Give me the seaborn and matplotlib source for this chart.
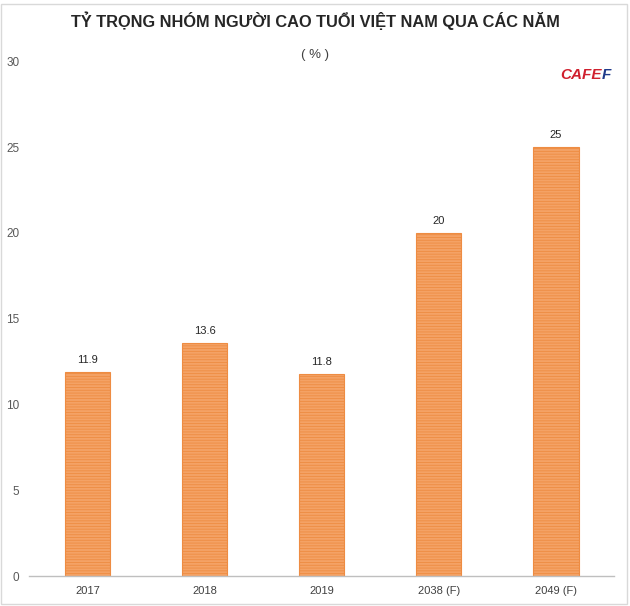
import matplotlib
matplotlib.use("Agg")
import matplotlib.pyplot as plt
import seaborn as sns
import pandas as pd

categories = ["2017", "2018", "2019", "2038 (F)", "2049 (F)"]
values = [11.9, 13.6, 11.8, 20, 25]
value_labels = ["11.9", "13.6", "11.8", "20", "25"]
yticks = [0, 5, 10, 15, 20, 25, 30]

title = "TỶ TRỌNG NHÓM NGƯỜI CAO TUỔI VIỆT NAM QUA CÁC NĂM"
subtitle = "( % )"

sns.set_theme(style="white")
plt.rcParams["font.family"] = ["Liberation Sans", "DejaVu Sans"]
plt.rcParams["hatch.color"] = "#F8C8A2"
plt.rcParams["hatch.linewidth"] = 0.6

df = pd.DataFrame({"year": categories, "value": values})

fig = plt.figure(figsize=(6.3, 6.06), dpi=100)
ax = fig.add_axes([0.046, 0.0495, 0.929, 0.8495])

sns.barplot(data=df, x="year", y="value", ax=ax, color="#F4A265",
            width=0.39, saturation=1, edgecolor="#EE8C42", linewidth=0.8)
for p in ax.patches:
    p.set_hatch("------")

ax.set_xlim(-0.5, 4.5)
ax.set_ylim(0, 30)
ax.set_yticks(yticks)
ax.set_yticklabels([str(t) for t in yticks], fontsize=8.5, color="#595959")
ax.tick_params(axis="y", length=0, pad=7)
ax.tick_params(axis="x", length=0, pad=7, labelsize=8, labelcolor="#404040")
ax.set_xlabel("")
ax.set_ylabel("")
for s in ["top", "right", "left"]:
    ax.spines[s].set_visible(False)
ax.spines["bottom"].set_color("#BFBFBF")
ax.spines["bottom"].set_linewidth(1.0)

for i, (v, lab) in enumerate(zip(values, value_labels)):
    ax.annotate(lab, (i, v), xytext=(0, 5), textcoords="offset points",
                ha="center", va="bottom", fontsize=8, color="#262626")

fig.text(0.5, 0.965, title, ha="center", va="center", fontsize=11.8,
         fontweight="bold", color="#262626")
fig.text(0.5, 0.909, subtitle, ha="center", va="center", fontsize=9.5,
         color="#404040")

# CAFEF mark
fig.text(0.955, 0.876, "CAFE", ha="right", va="center", fontsize=11,
         fontweight="bold", color="#D0202E", fontstyle="italic")
fig.text(0.955, 0.876, "F", ha="left", va="center", fontsize=11,
         fontweight="bold", color="#1F3A8A", fontstyle="italic")

# light frame
fig.patches.append(plt.Rectangle((0.002, 0.004), 0.994, 0.99, transform=fig.transFigure,
                                 fill=False, edgecolor="#D9D9D9", linewidth=1.0))

fig.savefig("out.png", dpi=100)
